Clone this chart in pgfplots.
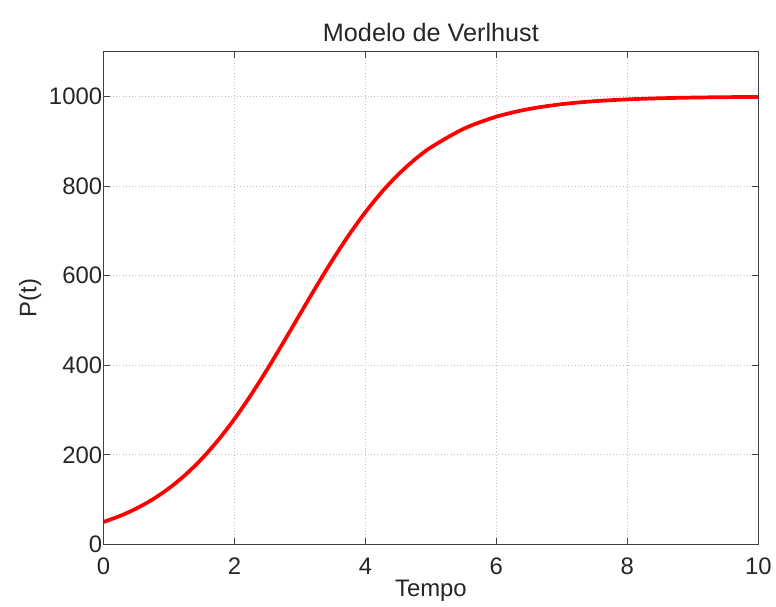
\documentclass[border=0pt]{standalone}
\usepackage{pgfplots}
\pgfplotsset{compat=1.18}
\usepackage{fontspec}
\setmainfont{Liberation Sans}
\begin{document}
\begin{tikzpicture}
\begin{axis}[
  scale only axis,
  width=493.5pt, height=371.25pt,
  xmin=0, xmax=10, ymin=0, ymax=1100,
  xtick={0,2,4,6,8,10},
  ytick={0,200,400,600,800,1000},
  tick align=inside,
  major tick length=5pt,
  grid=major,
  grid style={gray!50, dotted, line width=0.6pt},
  axis line style={black!75, line width=0.8pt},
  tick style={black!75, line width=0.6pt},
  /pgf/number format/assume math mode=true,
  /pgf/number format/1000 sep={},
  tick label style={font=\fontsize{18}{20}\selectfont, text=black!85},
  yticklabel style={xshift=2.5pt},
  xticklabel style={yshift=-7pt},
  label style={font=\fontsize{18}{20}\selectfont, text=black!85},
  title style={font=\fontsize{19}{21}\selectfont, text=black!85, yshift=-2pt},
  title={Modelo de Verlhust},
  xlabel={Tempo},
  ylabel={P(t)},
  xlabel style={yshift=3pt},
  ylabel style={yshift=-1pt},
]
\addplot[red, line width=2.8pt, smooth] coordinates {
(0,50) (0.25,63.30) (0.5,79.85) (0.75,100.25) (1,125.16) (1.25,155.19)
(1.5,190.86) (1.75,232.47) (2,280.0) (2.25,333.05) (2.5,390.68) (2.75,451.54)
(3,513.89) (3.25,575.80) (3.5,635.42) (3.75,691.16) (4,741.84) (4.25,786.77)
(4.5,825.72) (4.75,858.83) (5,886.51) (5.5,927.95) (6,955.02) (6.5,972.23)
(7,982.97) (7.5,989.60) (8,993.67) (8.5,996.15) (9,997.66) (9.5,998.58) (10,999.14)
};
\end{axis}
\path ([xshift=-78pt,yshift=-44pt]current axis.south west) rectangle ([xshift=10.5pt,yshift=39pt]current axis.north east);
\end{tikzpicture}
\end{document}
